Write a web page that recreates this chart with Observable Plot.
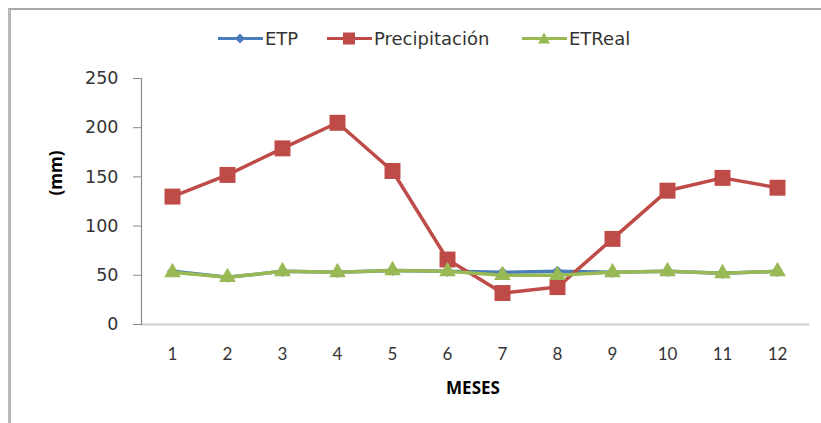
<!DOCTYPE html>
<html>
<head>
<meta charset="utf-8">
<script src="https://cdn.jsdelivr.net/npm/d3@7"></script>
<script src="https://cdn.jsdelivr.net/npm/@observablehq/plot@0.6"></script>
<style>
  html, body { margin: 0; padding: 0; background: #fff; }
  #wrap { position: relative; width: 821px; height: 423px; overflow: hidden; font-family: "Open Sans", sans-serif; }
  #border { position: absolute; left: 8px; top: 8px; right: -10px; bottom: -10px; border-left: 3px solid #b8b8b8; border-top: 2px solid #a8a8a8; pointer-events: none; }
  #legend { height: 56px; position: relative; }
  .item { position: absolute; top: 38px; display: flex; align-items: center; font-family: "DejaVu Sans", sans-serif; font-size: 18px; color: #333; transform: translateY(-50%); }
  .item svg { margin-right: 2px; }
  #chart svg { display: block; }
</style>
</head>
<body>
<div id="wrap">
  <div id="legend"></div>
  <div id="chart"></div>
  <div id="border"></div>
</div>
<script>
const meses = [1, 2, 3, 4, 5, 6, 7, 8, 9, 10, 11, 12];
const etp = [54, 48, 54, 53, 55, 54, 53, 54, 53, 54, 52, 54];
const precipitacion = [130, 152, 179, 205, 156, 66, 32, 38, 87, 136, 149, 139];
const etreal = [53, 48, 54, 53, 55, 54, 50, 50, 53, 54, 52, 54];
const seriesNames = ["ETP", "Precipitación", "ETReal"];
const seriesColors = ["#4a7ebb", "#be4b48", "#98b954"];
const seriesSymbols = ["diamond2", "square", "triangle"];
const yTicks = [0, 50, 100, 150, 200, 250];

const rows = [];
[etp, precipitacion, etreal].forEach((vals, s) => {
  vals.forEach((v, i) => rows.push({ serie: seriesNames[s], mes: meses[i], valor: v }));
});

// Legend
const legend = document.getElementById("legend");
const legendX = [218, 327, 522];
const symbolPaths = {
  diamond2: '<path d="M22,3 L27,8 L22,13 L17,8 Z"/>',
  square: '<rect x="16" y="2" width="12" height="12"/>',
  triangle: '<path d="M22,2 L28,13 L16,13 Z"/>'
};
seriesNames.forEach((name, i) => {
  const d = document.createElement("div");
  d.className = "item";
  d.style.left = legendX[i] + "px";
  d.innerHTML = `<svg width="45" height="16"><line x1="0" x2="45" y1="8" y2="8" stroke="${seriesColors[i]}" stroke-width="3"/><g fill="${seriesColors[i]}">${symbolPaths[seriesSymbols[i]]}</g></svg><span>${name}</span>`;
  legend.appendChild(d);
});

const chart = Plot.plot({
  width: 821,
  height: 367,
  marginLeft: 141,
  marginRight: 13,
  marginTop: 22,
  marginBottom: 99,
  style: { fontFamily: "'Open Sans', sans-serif", fontSize: "16px", color: "#404040", background: "transparent" },
  x: { type: "point", domain: meses, padding: 0.5, label: null },
  y: { domain: [0, 250], label: null },
  color: { domain: seriesNames, range: seriesColors },
  symbol: { domain: seriesNames, range: seriesSymbols },
  marks: [
    Plot.frame({ anchor: "bottom", stroke: "#d0d0d0", strokeWidth: 2 }),
    Plot.frame({ anchor: "left", stroke: "#888", strokeWidth: 1.2 }),
    Plot.axisY({ ticks: yTicks, tickSize: 8, tickPadding: 15, stroke: "#888", label: null, fill: "#333", fontFamily: "'DejaVu Sans', sans-serif", fontSize: 17.5 }),
    Plot.axisX({ tickSize: 0, tickPadding: 23, label: null, fill: "#333", fontFamily: "Lato, sans-serif", fontSize: 17 }),
    Plot.line(rows, { x: "mes", y: "valor", z: "serie", stroke: "serie", strokeWidth: 3.5, curve: "linear" }),
    Plot.dot(rows.filter(d => d.serie === "ETP"), { x: "mes", y: "valor", symbol: "serie", fill: "serie", r: 5, stroke: null }),
    Plot.dot(rows.filter(d => d.serie === "Precipitación"), { x: "mes", y: "valor", symbol: "serie", fill: "serie", r: 9, stroke: null }),
    Plot.dot(rows.filter(d => d.serie === "ETReal"), { x: "mes", y: "valor", symbol: "serie", fill: "serie", r: 6.2, stroke: null }),
    Plot.text(["MESES"], { frameAnchor: "bottom", dy: 69, dx: -2, fontWeight: "bold", fontSize: 17, fill: "#000", fontFamily: "'Open Sans', sans-serif" }),
    Plot.text(["(mm)"], { frameAnchor: "left", dx: -85, dy: -6, rotate: -90, fontWeight: "bold", fontSize: 17, fill: "#000", fontFamily: "'Open Sans', sans-serif" })
  ]
});
document.getElementById("chart").appendChild(chart);
</script>
</body>
</html>
